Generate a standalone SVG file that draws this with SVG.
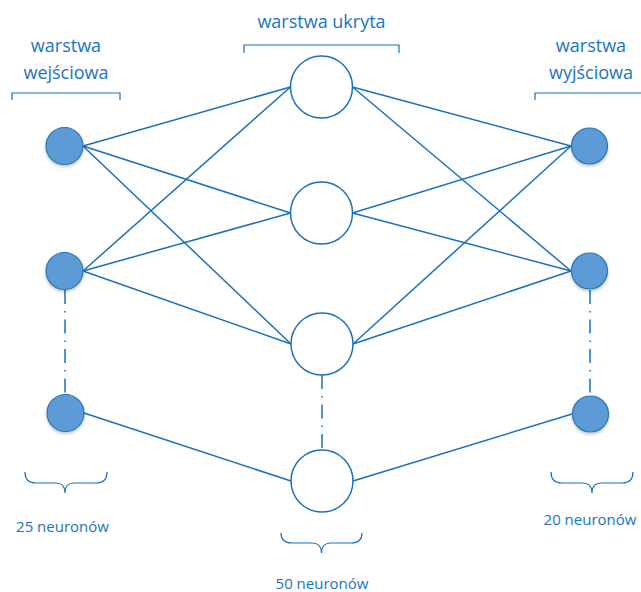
<svg xmlns="http://www.w3.org/2000/svg" width="641" height="592" viewBox="0 0 641 592">
  <style>
    .edge { stroke: #1a70bd; stroke-width: 1.5; fill: none; }
    .dots { stroke: #1a70bd; stroke-width: 1.5; fill: none; stroke-dasharray: 14 7 1.5 7; }
    .brace { stroke: #1a70bd; stroke-width: 1.2; fill: none; }
    .in, .out { fill: #5b9bd5; stroke: #2e75b6; stroke-width: 1.2; filter: url(#soft); }
    .hid { fill: #ffffff; stroke: #1a70bd; stroke-width: 1.5; }
    .title { font-family: "Open Sans", "Liberation Sans", sans-serif; font-size: 18px; fill: #1b74bf; text-anchor: middle; }
    .count { font-family: "Open Sans", "Liberation Sans", sans-serif; font-size: 15px; fill: #1b74bf; text-anchor: middle; }
  </style>
  <defs>
    <filter id="soft" x="-30%" y="-30%" width="160%" height="170%">
      <feDropShadow dx="0" dy="2" stdDeviation="1.6" flood-color="#000000" flood-opacity="0.22"/>
    </filter>
  </defs>

  <rect width="641" height="592" fill="#ffffff"/>

  <!-- layer headings and brackets -->
  <g id="headings">
    <text class="title" x="66" y="52">warstwa</text>
    <text class="title" x="66" y="79">wejściowa</text>
    <path class="brace" d="M12,100 V93 H120 V100"/>
    <text class="title" x="321.5" y="28">warstwa ukryta</text>
    <path class="brace" d="M244,53 V45 H399 V53"/>
    <text class="title" x="591" y="52">warstwa</text>
    <text class="title" x="591" y="79">wyjściowa</text>
    <path class="brace" d="M535,100 V93 H641"/>
  </g>

  <!-- connections -->
  <g id="connectors">
    <!-- input -> hidden -->
    <line class="edge" x1="83" y1="146" x2="290.5" y2="87"/>
    <line class="edge" x1="83" y1="146" x2="290.5" y2="213"/>
    <line class="edge" x1="83" y1="146" x2="291" y2="344"/>
    <line class="edge" x1="83" y1="271" x2="290.5" y2="87"/>
    <line class="edge" x1="83" y1="271" x2="290.5" y2="213"/>
    <line class="edge" x1="83" y1="271" x2="291" y2="344"/>
    <line class="edge" x1="84" y1="413" x2="291" y2="481"/>
    <!-- hidden -> output -->
    <line class="edge" x1="352.5" y1="87" x2="571" y2="146"/>
    <line class="edge" x1="352.5" y1="213" x2="571" y2="146"/>
    <line class="edge" x1="353" y1="344" x2="571" y2="146"/>
    <line class="edge" x1="352.5" y1="87" x2="571" y2="271"/>
    <line class="edge" x1="352.5" y1="213" x2="571" y2="271"/>
    <line class="edge" x1="353" y1="344" x2="571" y2="271"/>
    <line class="edge" x1="353" y1="481" x2="572" y2="414"/>
    <!-- elided neurons -->
    <line class="dots" x1="65" y1="290" x2="65" y2="395"/>
    <line class="dots" x1="322" y1="375" x2="322" y2="450"/>
    <line class="dots" x1="590" y1="290" x2="590" y2="396"/>
  </g>

  <!-- input layer -->
  <g id="input-1"><circle class="in" cx="64.5" cy="146" r="18.5"/></g>
  <g id="input-2"><circle class="in" cx="64.5" cy="271" r="18.5"/></g>
  <g id="input-n"><circle class="in" cx="65.5" cy="413" r="18.5"/></g>

  <!-- hidden layer -->
  <g id="hidden-1"><circle class="hid" cx="321.5" cy="87" r="31"/></g>
  <g id="hidden-2"><circle class="hid" cx="321.5" cy="213" r="31"/></g>
  <g id="hidden-3"><circle class="hid" cx="322" cy="344" r="31"/></g>
  <g id="hidden-n"><circle class="hid" cx="322" cy="481" r="31"/></g>

  <!-- output layer -->
  <g id="output-1"><circle class="out" cx="589.5" cy="146" r="18"/></g>
  <g id="output-2"><circle class="out" cx="589.5" cy="271" r="18"/></g>
  <g id="output-n"><circle class="out" cx="590.5" cy="414" r="18"/></g>

  <!-- neuron counts -->
  <g id="counts">
    <path class="brace" d="M25,472 Q25,483 36,483 H56 Q65,483 65,493 Q65,483 74,483 H96 Q107,483 107,472"/>
    <text class="count" x="62.5" y="532">25 neuronów</text>
    <path class="brace" d="M281,533 Q281,543 292,543 H312 Q321.5,543 321.5,553 Q321.5,543 331,543 H351 Q362,543 362,533"/>
    <text class="count" x="322" y="589">50 neuronów</text>
    <path class="brace" d="M551,472 Q551,483 562,483 H582 Q592,483 592,493 Q592,483 602,483 H622 Q633,483 633,472"/>
    <text class="count" x="590" y="525">20 neuronów</text>
  </g>
</svg>
